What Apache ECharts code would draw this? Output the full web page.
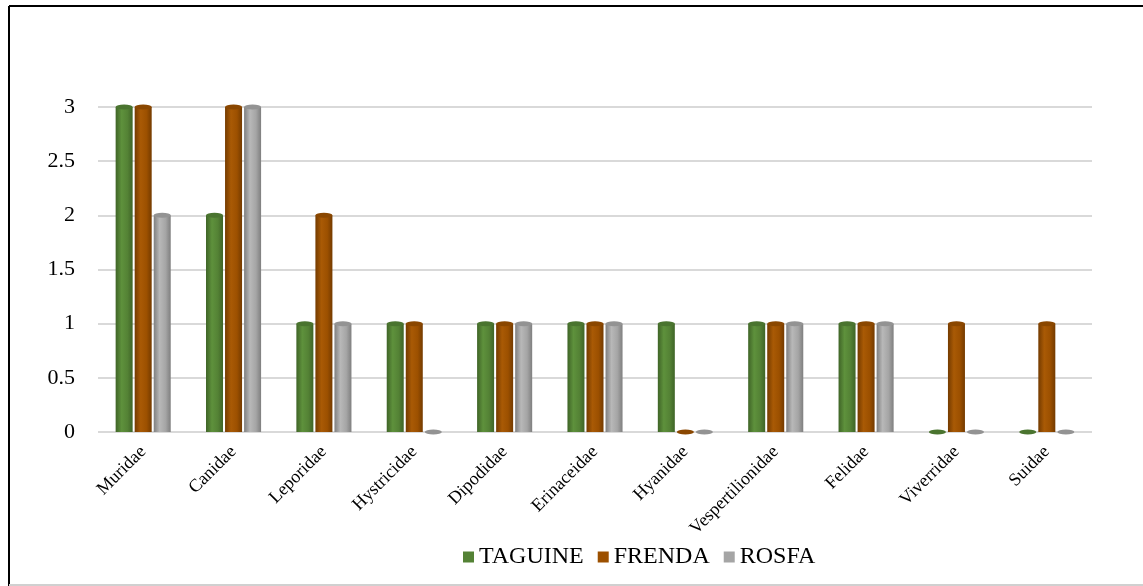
<!DOCTYPE html>
<html>
<head>
<meta charset="utf-8">
<script src="https://cdn.jsdelivr.net/npm/echarts@6/dist/echarts.min.js"></script>
<style>
  html, body { margin: 0; padding: 0; background: #fff; }
  #main { width: 1143px; height: 586px; }
</style>
</head>
<body>
<div id="main"></div>
<script>
// families on the x axis
var categories = ["Muridae", "Canidae", "Leporidae", "Hystricidae", "Dipodidae", "Erinaceidae",
  "Hyanidae", "Vespertilionidae", "Felidae", "Viverridae", "Suidae"];
var taguine = [3, 2, 1, 1, 1, 1, 1, 1, 1, 0, 0];
var frenda = [3, 3, 2, 1, 1, 1, 0, 1, 1, 1, 1];
var rosfa = [2, 3, 1, 0, 1, 1, 0, 1, 1, 0, 0];
var seriesNames = ["TAGUINE", "FRENDA", "ROSFA"];

var serifFont = "Liberation Serif";

var chart = echarts.init(document.getElementById("main"));

// cylinder look: dark edges, lighter middle
function cyl(dark, mid, light) {
  return new echarts.graphic.LinearGradient(0, 0, 1, 0, [
    { offset: 0, color: dark },
    { offset: 0.35, color: light },
    { offset: 0.7, color: mid },
    { offset: 1, color: dark }
  ]);
}
var colors = [
  { flat: "#548235", body: cyl("#3f6427", "#548235", "#5e913c"), cap: "#4a742f" },
  { flat: "#9c5000", body: cyl("#743b00", "#9c5000", "#a95a05"), cap: "#8a4700" },
  { flat: "#a5a5a5", body: cyl("#7f7f7f", "#a5a5a5", "#b8b8b8"), cap: "#939393" }
];
var values = [taguine, frenda, rosfa];

var series = [];
values.forEach(function (v, i) {
  series.push({
    name: seriesNames[i],
    type: "bar",
    data: v,
    barWidth: 17,
    barGap: "12%",
    itemStyle: { color: colors[i].body },
    emphasis: { disabled: true }
  });
});
// elliptic tops of the cylinders
values.forEach(function (v, i) {
  series.push({
    name: seriesNames[i],
    type: "pictorialBar",
    data: v,
    barWidth: 17,
    barGap: "12%",
    symbol: "circle",
    symbolSize: [17, 5],
    symbolPosition: "end",
    symbolOffset: [0, "-50%"],
    z: 3,
    itemStyle: { color: colors[i].cap },
    emphasis: { disabled: true }
  });
});

chart.setOption({
  animation: false,
  color: colors.map(function (c) { return c.flat; }),
  grid: { left: 98, right: 51, top: 107, bottom: 154 },
  legend: {
    data: seriesNames.map(function (n, i) { return { name: n, itemStyle: { color: colors[i].flat } }; }),
    bottom: 12,
    left: 458,
    itemWidth: 11,
    itemHeight: 11,
    itemGap: 14,
    icon: "rect",
    textStyle: { fontFamily: serifFont, fontSize: 24, color: "#000" }
  },
  xAxis: {
    type: "category",
    data: categories,
    axisLine: { show: false },
    axisTick: { show: false },
    axisLabel: {
      rotate: 45,
      interval: 0,
      margin: 17,
      fontFamily: serifFont,
      fontSize: 18,
      color: "#000"
    }
  },
  yAxis: {
    type: "value",
    min: 0,
    max: 3,
    interval: 0.5,
    axisLine: { show: false },
    axisTick: { show: false },
    splitLine: { lineStyle: { color: "#d9d9d9", width: 2 } },
    axisLabel: {
      margin: 23,
      fontFamily: serifFont,
      fontSize: 22,
      color: "#000"
    }
  },
  graphic: [
    { type: "line", shape: { x1: 9, y1: 6, x2: 1143, y2: 6 }, style: { stroke: "#000", lineWidth: 2 } },
    { type: "line", shape: { x1: 9, y1: 6, x2: 9, y2: 586 }, style: { stroke: "#000", lineWidth: 2 } },
    { type: "line", shape: { x1: 9, y1: 585, x2: 1143, y2: 585 }, style: { stroke: "#d0d0d0", lineWidth: 2 } }
  ],
  series: series
});
</script>
</body>
</html>
